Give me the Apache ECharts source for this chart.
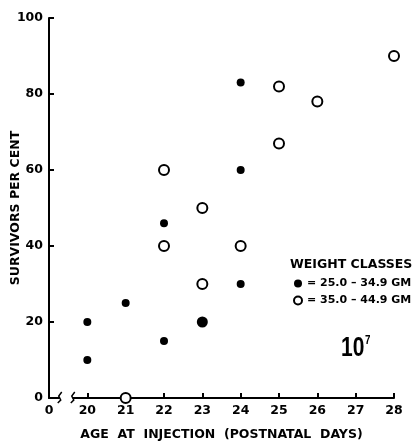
<!DOCTYPE html>
<html><head><meta charset="utf-8">
<script src="https://cdn.jsdelivr.net/npm/echarts@6/dist/echarts.min.js"></script>
<style>html,body{margin:0;padding:0;background:#fff}#c{width:416px;height:443px}</style>
</head><body><div id="c"></div>
<script>
// Age at injection (postnatal days); 19 on the axis stands for the broken-off "0"
const xTicks = [19, 20, 21, 22, 23, 24, 25, 26, 27, 28];
const yTicks = [0, 20, 40, 60, 80, 100];
// Weight class 25.0-34.9 gm (filled dots): [age, survivors %]
const lightAges   = [20, 20, 21, 22, 22, 24, 24, 24];
const lightValues = [10, 20, 25, 15, 46, 30, 60, 83];
// the one larger filled dot
const lightBigAges   = [23];
const lightBigValues = [20];
// Weight class 35.0-44.9 gm (open circles)
const heavyAges   = [21, 22, 22, 23, 23, 24, 25, 25, 26, 28];
const heavyValues = [0, 40, 60, 30, 50, 40, 67, 82, 78, 90];
// axis break between 0 and 20
const axisBreak = [19.28, 19.62];

const FONT = 'DejaVu Sans';
const chart = echarts.init(document.getElementById('c'));
const zip = (a, b) => a.map((v, i) => [v, b[i]]);

chart.setOption({
  animation: false,
  backgroundColor: '#fff',
  grid: { left: 49, right: 22, top: 18, bottom: 45, outerBoundsMode: 'none', containLabel: false },
  title: [
    { text: 'WEIGHT CLASSES', left: 290, top: 258, padding: 0,
      textStyle: { fontFamily: FONT, fontSize: 12.5, fontWeight: 'bold', color: '#000' } }
  ],
  graphic: [
    { type: 'text', left: 341, top: 334, scaleX: 0.75,
      style: { text: '10{s|7}', font: 'bold 28px "Liberation Sans"', fill: '#000',
        rich: { s: { fontFamily: 'Liberation Sans', fontSize: 13, fontWeight: 'bold', fill: '#000', verticalAlign: 'top', padding: [0, 0, 14, 1] } } } }
  ],
  legend: {
    orient: 'vertical', left: 293, top: 278, padding: 0, itemWidth: 8, itemHeight: 8, itemGap: 6,
    data: ['= 25.0 – 34.9 GM', '= 35.0 – 44.9 GM'],
    textStyle: { fontFamily: FONT, fontSize: 11, fontWeight: 'bold', color: '#000' },
    selectedMode: false
  },
  xAxis: {
    type: 'value', min: 19, max: 28, interval: 1,
    name: 'AGE  AT  INJECTION  (POSTNATAL  DAYS)', nameLocation: 'middle', nameGap: 30,
    nameTextStyle: { fontFamily: FONT, fontSize: 12.5, fontWeight: 'bold', color: '#000' },
    axisLine: { lineStyle: { color: '#000', width: 2 } },
    axisTick: { inside: true, length: 5, lineStyle: { color: '#000', width: 2 } },
    axisLabel: { margin: 6, fontFamily: FONT, fontSize: 12.5, fontWeight: 'bold', color: '#000',
      formatter: v => (v === 19 ? '0' : String(v)), showMinLabel: true, showMaxLabel: true },
    splitLine: { show: false }
  },
  yAxis: {
    type: 'value', min: 0, max: 100, interval: 20,
    name: 'SURVIVORS PER CENT', nameLocation: 'middle', nameGap: 27, nameRotate: 90, nameMoveOverlap: false,
    nameTextStyle: { fontFamily: FONT, fontSize: 12.5, fontWeight: 'bold', color: '#000' },
    axisLine: { show: true, lineStyle: { color: '#000', width: 2 } },
    axisTick: { show: true, inside: true, length: 5, lineStyle: { color: '#000', width: 2 } },
    axisLabel: { margin: 6, fontFamily: FONT, fontSize: 12.5, fontWeight: 'bold', color: '#000' },
    splitLine: { show: false }
  },
  series: [
    {
      type: 'custom', silent: true, clip: false, z: 5,
      data: [[axisBreak[0], 0, axisBreak[1]]],
      renderItem: (params, api) => {
        const a = api.coord([api.value(0), 0]);
        const b = api.coord([api.value(2), 0]);
        const zig = (p) => ({
          type: 'polyline',
          shape: { points: [[p[0] - 2, p[1] + 5], [p[0] + 1, p[1] + 2], [p[0] - 1, p[1] - 2], [p[0] + 2, p[1] - 6]] },
          style: { stroke: '#000', lineWidth: 1.5, fill: null }
        });
        return {
          type: 'group',
          children: [
            { type: 'rect', shape: { x: a[0], y: a[1] - 3, width: b[0] - a[0], height: 6 }, style: { fill: '#fff' } },
            zig(a), zig(b)
          ]
        };
      }
    },
    {
      name: '= 25.0 – 34.9 GM', type: 'scatter', symbol: 'circle', symbolSize: 8, z: 10,
      itemStyle: { color: '#000', opacity: 1 },
      data: zip(lightAges, lightValues)
    },
    {
      name: '= 25.0 – 34.9 GM', type: 'scatter', symbol: 'circle', symbolSize: 11, z: 10,
      itemStyle: { color: '#000', opacity: 1 },
      data: zip(lightBigAges, lightBigValues)
    },
    {
      name: '= 35.0 – 44.9 GM', type: 'scatter', symbol: 'circle', symbolSize: 10, z: 10,
      itemStyle: { color: '#fff', borderColor: '#000', borderWidth: 2, opacity: 1 },
      data: zip(heavyAges, heavyValues)
    }
  ]
});
</script></body></html>
